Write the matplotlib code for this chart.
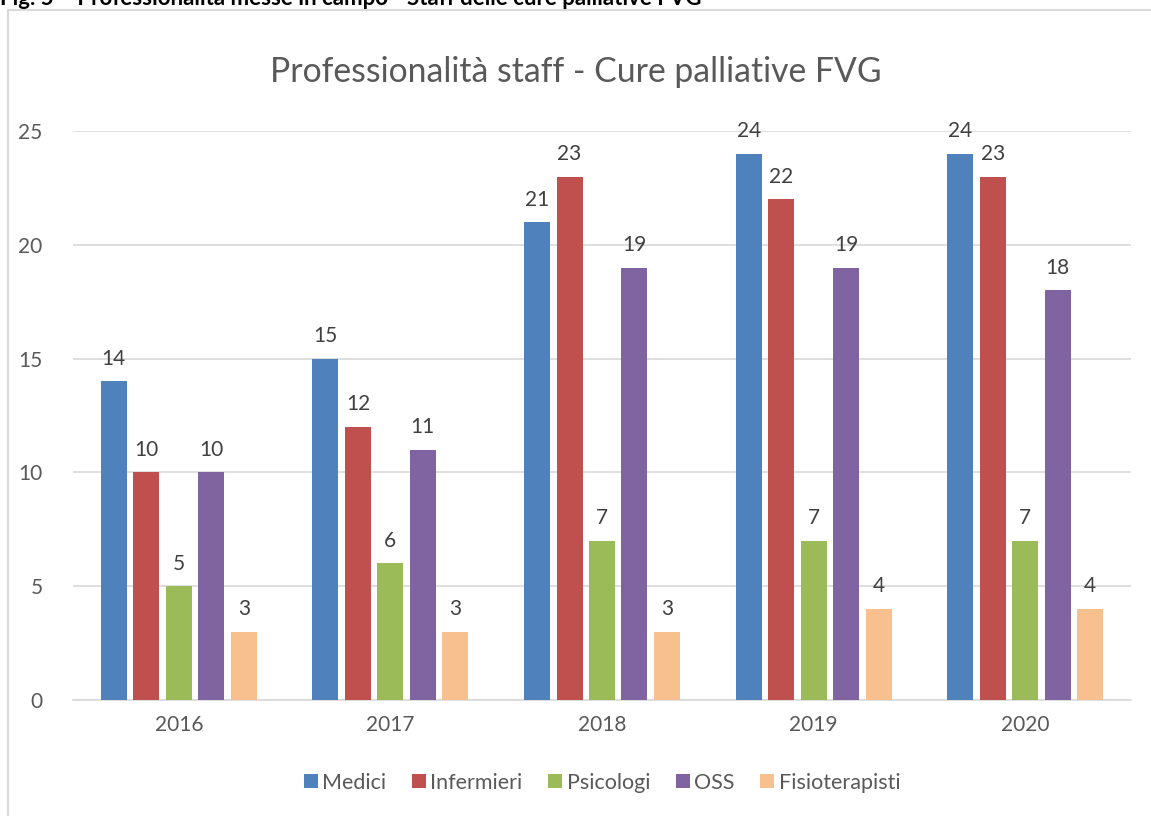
import numpy as np
import matplotlib.pyplot as plt
from matplotlib.patches import Rectangle

anni = ["2016", "2017", "2018", "2019", "2020"]
medici = [14, 15, 21, 24, 24]
infermieri = [10, 12, 23, 22, 23]
psicologi = [5, 6, 7, 7, 7]
oss = [10, 11, 19, 19, 18]
fisioterapisti = [3, 3, 3, 4, 4]

serie = ["Medici", "Infermieri", "Psicologi", "OSS", "Fisioterapisti"]
valori = [medici, infermieri, psicologi, oss, fisioterapisti]
colori = ["#4F81BD", "#C0504D", "#9BBB59", "#8064A2", "#F9C08F"]

plt.rcParams['font.family'] = ['Lato', 'DejaVu Sans']
grigio = "#595959"

fig = plt.figure(figsize=(11.51, 8.16), dpi=100)
ax = fig.add_axes([73/1151, 1-700/816, (1131-73)/1151, (700-131)/816])

x = np.arange(len(anni))
step = 0.1535
w = 0.123
for i, (nome, v, c) in enumerate(zip(serie, valori, colori)):
    pos = x + (i - 2) * step
    ax.bar(pos, v, width=w, color=c, label=nome, zorder=3)
    for px, val in zip(pos, v):
        ax.annotate(str(val), (px, val), xytext=(0, 9), textcoords="offset points",
                    ha="center", va="bottom", fontsize=15, color="#404040",
                    annotation_clip=False)

ax.set_xlim(-0.5, len(anni) - 0.5)
ax.set_ylim(0, 25)
ax.set_yticks(range(0, 26, 5))
ax.set_xticks(x)
ax.set_xticklabels(anni)
ax.grid(axis="y", color="#D9D9D9", linewidth=1.2, zorder=0)
for s in ["top", "right", "left"]:
    ax.spines[s].set_visible(False)
ax.spines["bottom"].set_color("#D9D9D9")
ax.spines["bottom"].set_linewidth(1.2)
ax.tick_params(axis="both", length=0, labelsize=15, labelcolor=grigio)
ax.tick_params(axis="y", pad=22)
ax.tick_params(axis="x", pad=11)

fig.text(0.5, 1-72/816, "Professionalità staff - Cure palliative FVG", ha="center",
         va="center", fontsize=24.3, color=grigio)

ax.legend(loc="center", bbox_to_anchor=(0.5, -0.145), ncol=5, frameon=False,
          fontsize=15.5, labelcolor=grigio, handlelength=0.65, handleheight=0.65,
          handletextpad=0.2, columnspacing=1.2)

fig.patches.append(Rectangle((8/1151, -0.1), 1.2, 1.1 - 10/816, transform=fig.transFigure,
                             fill=False, edgecolor="#D9D9D9", linewidth=1.5))
fig.text(0, 1-5/816, "Fig. 5 – Professionalità messe in campo - Staff delle cure palliative FVG",
         ha="left", va="baseline", fontsize=16, fontweight="bold", color="black")

fig.savefig("out.png", dpi=100)
